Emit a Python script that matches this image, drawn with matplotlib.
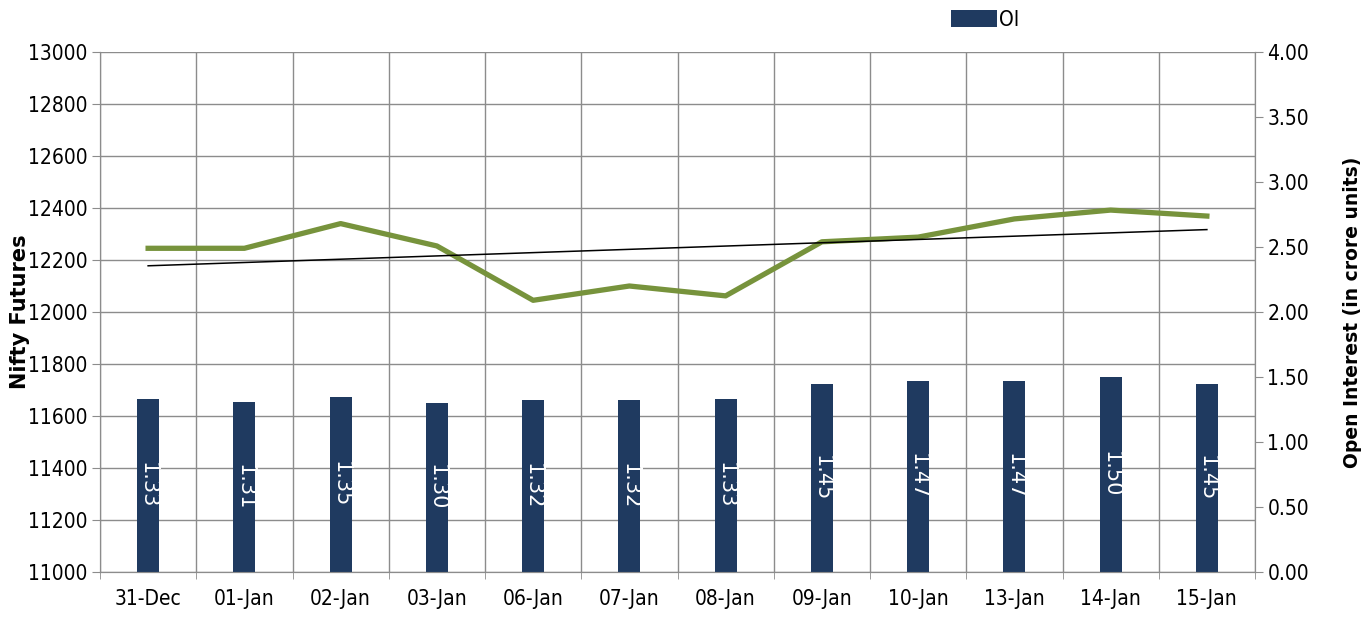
import matplotlib

matplotlib.use("Agg")
import matplotlib.pyplot as plt
import numpy as np
from matplotlib import font_manager

dates = ["31-Dec", "01-Jan", "02-Jan", "03-Jan", "06-Jan", "07-Jan",
         "08-Jan", "09-Jan", "10-Jan", "13-Jan", "14-Jan", "15-Jan"]
nifty = [12245, 12245, 12340, 12254, 12045, 12100,
         12062, 12270, 12288, 12358, 12392, 12369]
oi = [1.33, 1.31, 1.35, 1.30, 1.32, 1.32, 1.33, 1.45, 1.47, 1.47, 1.50, 1.45]

left_ticks = np.arange(11000, 13001, 200)
right_ticks = np.arange(0, 4.01, 0.5)

names = {f.name for f in font_manager.fontManager.ttflist}
narrow = "Liberation Sans Narrow" if "Liberation Sans Narrow" in names else "DejaVu Sans"
narrow_fp = font_manager.FontProperties(family=narrow, stretch="condensed", size=15)

GREEN = "#77933C"
NAVY = "#1F3A60"
GRID = "#8C8C8C"

fig = plt.figure(figsize=(13.68, 6.21), dpi=100)
ax = fig.add_axes([100 / 1368, 49 / 621, 1155 / 1368, 520 / 621])
ax2 = ax.twinx()

x = np.arange(len(dates))

# bars (open interest) on the secondary axis
bars = ax2.bar(x, oi, width=0.23, color=NAVY, zorder=2, label="OI")
for xi, v in zip(x, oi):
    ax2.text(xi, v / 2, f"{v:.2f}", rotation=-90, ha="center", va="center",
             color="white", fontsize=15, zorder=3)

# nifty futures line + linear trendline
ax.plot(x, nifty, color=GREEN, linewidth=3.8, solid_joinstyle="round", zorder=3)
k, b = np.polyfit(x, nifty, 1)
ax.plot(x, k * x + b, color="black", linewidth=1.1, zorder=3)

ax.set_xlim(-0.5, len(dates) - 0.5)
ax.set_ylim(11000, 13000)
ax2.set_ylim(0, 4)
ax.set_yticks(left_ticks)
ax2.set_yticks(right_ticks)
ax2.set_yticklabels([f"{t:.2f}" for t in right_ticks])

ax.set_xticks(x)
ax.set_xticklabels(dates)
ax.set_xticks(np.arange(-0.5, len(dates), 1), minor=True)
ax.tick_params(axis="x", which="major", length=0, pad=12)
ax.tick_params(axis="x", which="minor", length=5, color=GRID)

ax.grid(True, which="minor", axis="x", color=GRID, linewidth=1)
ax.grid(True, which="major", axis="y", color=GRID, linewidth=1)
ax.set_axisbelow(True)

for a in (ax, ax2):
    for s in a.spines.values():
        s.set_color(GRID)
    a.spines["top"].set_visible(False)
ax.tick_params(axis="y", length=6, color=GRID, pad=3)
ax2.tick_params(axis="y", length=6, color=GRID, pad=3)
for lbl in ax.get_yticklabels() + ax2.get_yticklabels() + ax.get_xticklabels():
    lbl.set_fontproperties(narrow_fp)

ax.set_ylabel("Nifty Futures", fontsize=15, fontweight="bold")
ax.yaxis.set_label_coords(-70 / 1155, 0.5)
ax2.set_ylabel("Open Interest (in crore units)", fontsize=13.5, fontweight="bold",
               rotation=90)
ax2.yaxis.set_label_coords(1 + 88 / 1155, 0.5)

leg = fig.legend(handles=[bars], labels=["OI"], loc="center",
                 bbox_to_anchor=(985 / 1368, 1 - 20 / 621), frameon=False,
                 handlelength=2.2, handleheight=0.9, handletextpad=0.1,
                 prop=narrow_fp)

fig.savefig("out.png", dpi=100)
